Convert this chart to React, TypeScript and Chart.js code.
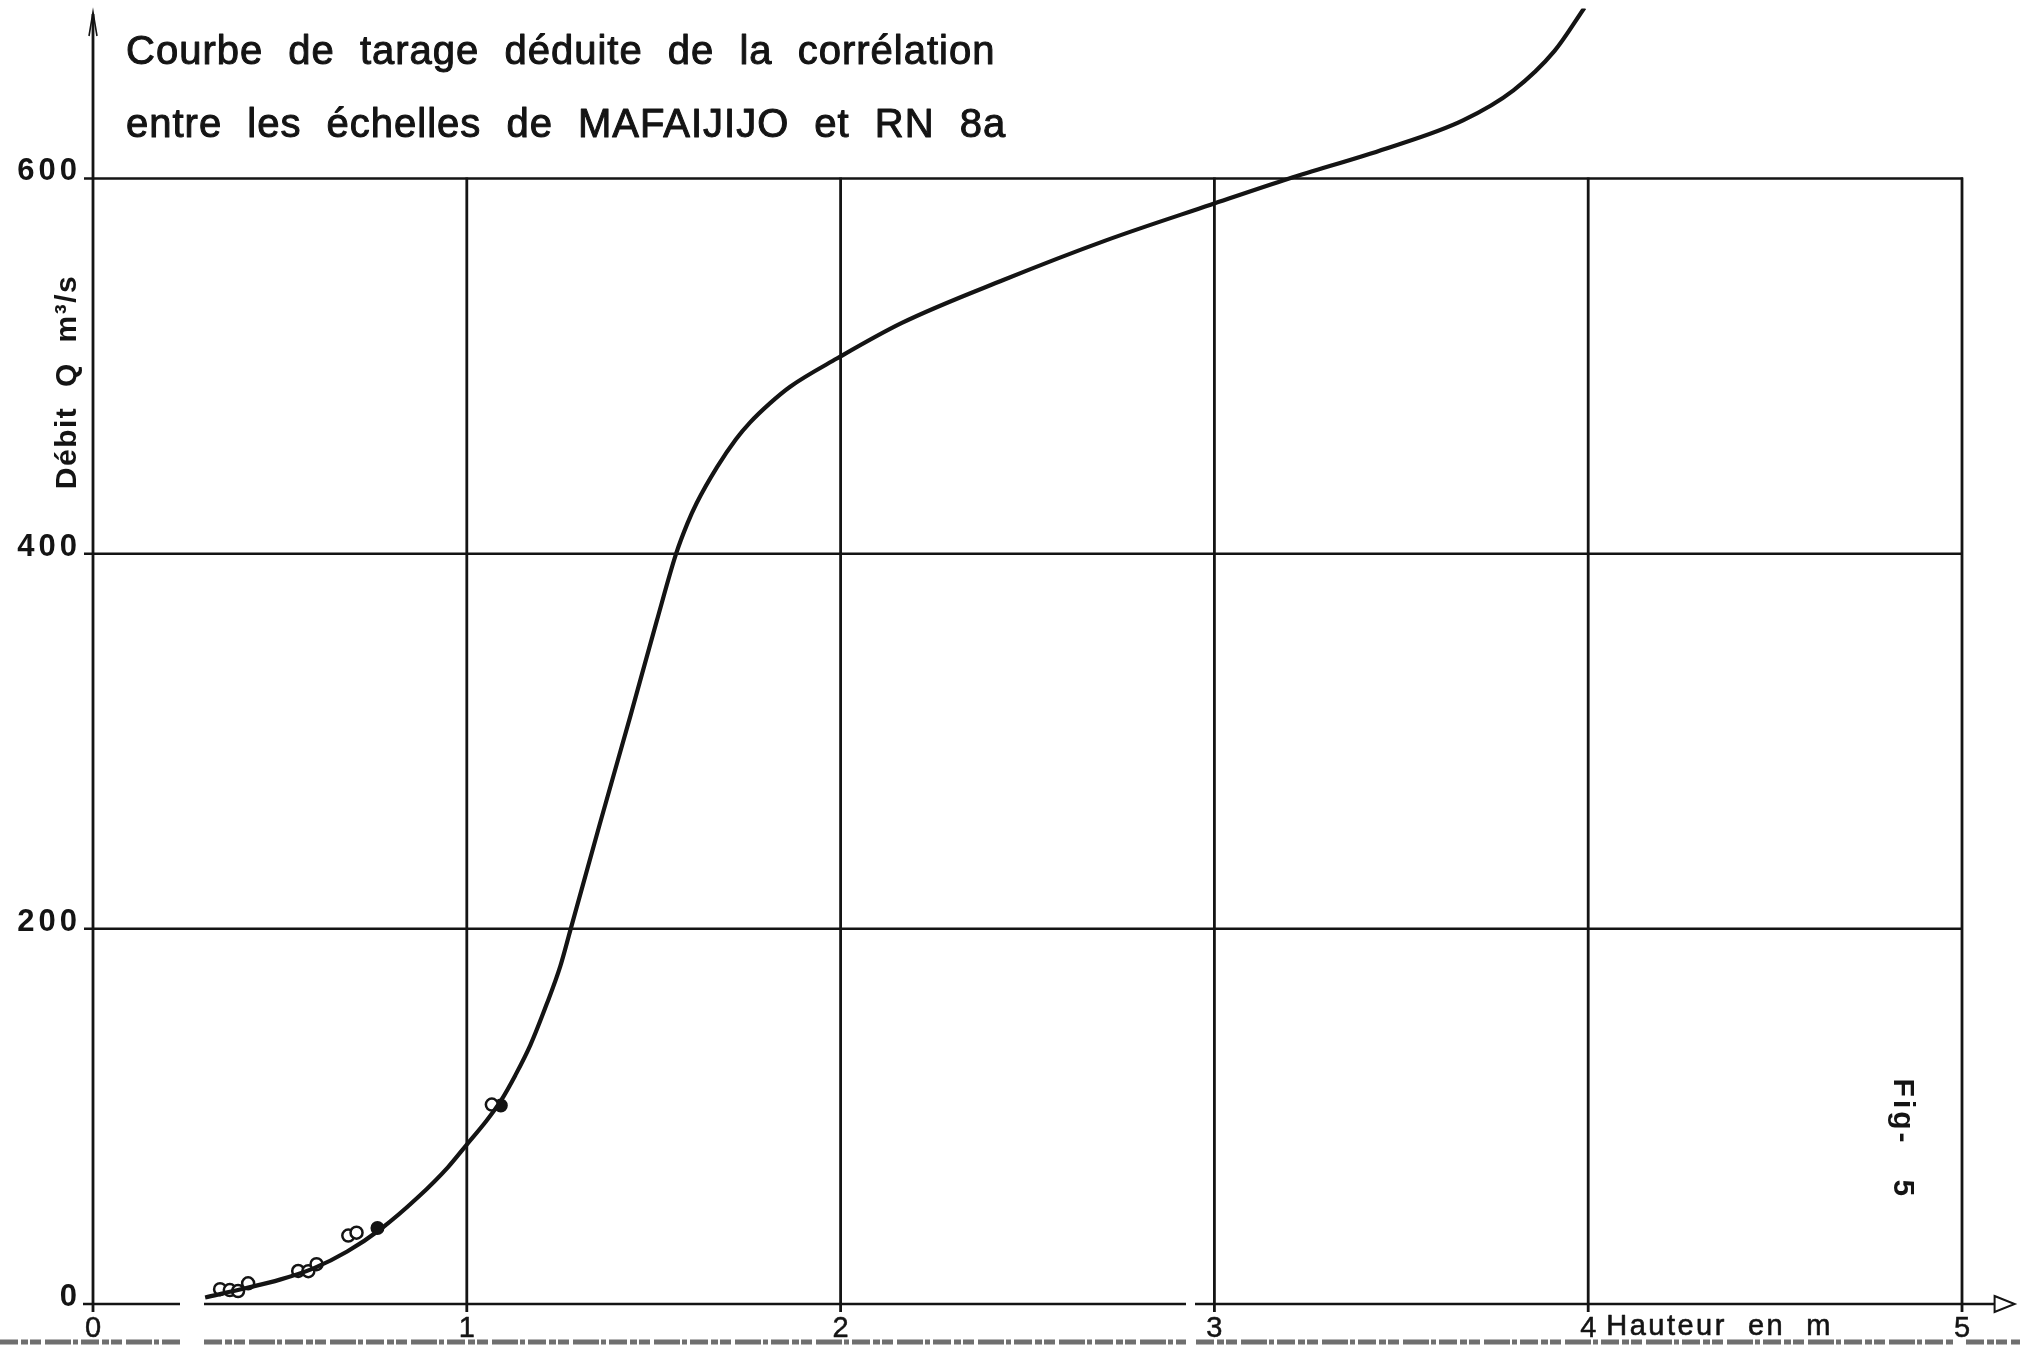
import React, { useEffect, useRef } from 'react';
import { Chart, registerables } from 'chart.js';

Chart.register(...registerables);

// Rating curve: stage (m) vs discharge (m³/s)
const H_CURVE = [0.3, 0.41, 0.5, 0.59, 0.68, 0.77, 0.87, 0.95, 1.0, 1.05, 1.09, 1.13, 1.17, 1.214, 1.25, 1.278, 1.356, 1.437, 1.508, 1.56, 1.59, 1.615, 1.669, 1.72, 1.758, 1.81, 1.865, 1.99, 2.164, 2.437, 2.71, 2.99, 3.2, 3.46, 3.665, 3.8, 3.91, 3.99];
const Q_CURVE = [3.5, 8.5, 13, 19, 28, 40, 57, 73, 85, 97, 108, 122, 138, 160, 180, 200, 256, 313, 364, 400, 416, 427, 446, 461, 470, 480, 489, 504, 523, 546, 567, 586, 600, 616, 631, 647, 668, 691];

// Gaugings (open and filled circles)
const H_OPEN = [0.34, 0.366, 0.388, 0.415, 0.549, 0.576, 0.598, 0.683, 0.705, 1.067];
const Q_OPEN = [7.9, 7.4, 6.9, 11, 17.6, 17.5, 21.2, 36.5, 38, 106.3];
const H_FILLED = [0.761, 1.091];
const Q_FILLED = [40.5, 105.8];

const X_TICKS = [0, 1, 2, 3, 4, 5];
const Y_TICKS = [0, 200, 400, 600];
const TITLE_LINES = ['Courbe de tarage déduite de la corrélation', 'entre les échelles de MAFAIJIJO et RN 8a'];
const Y_TITLE = 'Débit  Q  m³/s';
const X_TITLE = 'Hauteur  en  m';
const FIG_LABEL = 'Fig-   5';

const INK = '#141414';
const FONT = '"Liberation Sans", Arial, Helvetica, sans-serif';

const pts = (xs: number[], ys: number[]) => xs.map((x, i) => ({ x, y: ys[i] }));

function seg(ctx: CanvasRenderingContext2D, x1: number, y1: number, x2: number, y2: number) {
  ctx.beginPath();
  ctx.moveTo(x1, y1);
  ctx.lineTo(x2, y2);
  ctx.stroke();
}

// text with a faint outline so it reads as heavy as the typed lettering
function inked(ctx: CanvasRenderingContext2D, text: string, x: number, y: number, w: number) {
  ctx.fillText(text, x, y);
  if (w > 0) {
    ctx.lineWidth = w;
    ctx.strokeStyle = INK;
    ctx.strokeText(text, x, y);
  }
}

const paper = {
  id: 'paper',
  beforeDatasetsDraw(chart: any) {
    const { ctx, chartArea, scales } = chart;
    const x = scales.x;
    const y = scales.y;
    const x0 = x.getPixelForValue(0);
    const x5 = x.getPixelForValue(5);
    const y0 = y.getPixelForValue(0);
    const yTop = y.getPixelForValue(600);
    ctx.save();
    ctx.strokeStyle = INK;
    ctx.lineCap = 'butt';

    // horizontal grid lines (200, 400, 600)
    ctx.lineWidth = 2.5;
    for (const v of Y_TICKS.slice(1)) {
      const py = y.getPixelForValue(v);
      seg(ctx, x0 - 9, py, x5 + 1, py);
    }
    // vertical grid lines (1..5), ticking just below the axis
    ctx.lineWidth = 2.8;
    for (const v of X_TICKS.slice(1)) {
      const px = x.getPixelForValue(v);
      seg(ctx, px, yTop - 1, px, y0 + 8);
    }
    // y axis with arrow
    ctx.lineWidth = 2.8;
    seg(ctx, x0, 14, x0, y0 + 8);
    ctx.lineWidth = 1.6;
    ctx.beginPath();
    ctx.moveTo(x0 - 4, 36);
    ctx.lineTo(x0, 12);
    ctx.lineTo(x0 + 4, 36);
    ctx.stroke();

    // x axis (broken near the foot of the curve and before 3)
    ctx.lineWidth = 2.6;
    const arrowX = chartArea.right + 4;
    seg(ctx, x0 - 10, y0, 180, y0);
    seg(ctx, 204, y0, 1186, y0);
    seg(ctx, 1195, y0, arrowX - 20, y0);
    ctx.lineWidth = 2;
    ctx.beginPath();
    ctx.moveTo(arrowX - 20, y0 - 8);
    ctx.lineTo(arrowX, y0);
    ctx.lineTo(arrowX - 20, y0 + 8);
    ctx.closePath();
    ctx.stroke();

    // dark scan edge at the foot of the sheet
    ctx.strokeStyle = 'rgba(50,50,50,0.7)';
    ctx.lineWidth = 5;
    ctx.setLineDash([18, 3, 7, 2, 11, 4, 26, 2, 5, 3]);
    const by = chart.height - 6;
    seg(ctx, 0, by, 180, by);
    seg(ctx, 204, by, 1186, by);
    seg(ctx, 1196, by, 1954, by);
    seg(ctx, 1966, by, chart.width, by);
    ctx.setLineDash([]);
    ctx.restore();
  },
  afterDatasetsDraw(chart: any) {
    const { ctx, chartArea, scales } = chart;
    const x = scales.x;
    const y = scales.y;
    const x0 = x.getPixelForValue(0);
    ctx.save();
    ctx.fillStyle = INK;
    ctx.lineJoin = 'round';

    // y tick labels
    ctx.font = `bold 31px ${FONT}`;
    (ctx as any).letterSpacing = '4px';
    ctx.textAlign = 'right';
    ctx.textBaseline = 'alphabetic';
    for (const v of Y_TICKS) {
      ctx.fillText(String(v), x0 - 12, y.getPixelForValue(v) + 2);
    }

    // x tick labels
    ctx.font = `29px ${FONT}`;
    (ctx as any).letterSpacing = '0px';
    ctx.textAlign = 'center';
    const base = chartArea.bottom + 33;
    for (const v of X_TICKS) {
      inked(ctx, String(v), x.getPixelForValue(v), base, 0.5);
    }
    // x axis title after the "4"
    ctx.font = `29px ${FONT}`;
    (ctx as any).letterSpacing = '2.5px';
    ctx.textAlign = 'left';
    inked(ctx, X_TITLE, x.getPixelForValue(4) + 18, base - 2, 0.6);

    // title lines
    ctx.font = `40px ${FONT}`;
    (ctx as any).letterSpacing = '1px';
    (ctx as any).wordSpacing = '13px';
    inked(ctx, TITLE_LINES[0], x0 + 33, 64, 1);
    inked(ctx, TITLE_LINES[1], x0 + 33, 137, 1);

    // y axis title
    ctx.font = `bold 30px ${FONT}`;
    (ctx as any).letterSpacing = '1.5px';
    (ctx as any).wordSpacing = '0px';
    ctx.textAlign = 'center';
    ctx.textBaseline = 'middle';
    ctx.save();
    ctx.translate(68, 382);
    ctx.rotate(-Math.PI / 2);
    ctx.fillText(Y_TITLE, 0, 0);
    ctx.restore();

    // figure number, written sideways
    ctx.font = `bold 30px ${FONT}`;
    (ctx as any).letterSpacing = '3px';
    ctx.save();
    ctx.translate(x.getPixelForValue(4.84), y.getPixelForValue(88));
    ctx.rotate(Math.PI / 2);
    ctx.fillText(FIG_LABEL, 0, 0);
    ctx.restore();

    ctx.restore();
  },
};

export default function App() {
  const ref = useRef<HTMLCanvasElement>(null);

  useEffect(() => {
    if (!ref.current) return;
    const chart = new Chart(ref.current, {
      type: 'line',
      data: {
        datasets: [
          {
            label: 'Courbe',
            data: pts(H_CURVE, Q_CURVE),
            borderColor: INK,
            borderWidth: 4.2,
            pointRadius: 0,
            cubicInterpolationMode: 'monotone',
            fill: false,
          },
          {
            label: 'Jaugeages',
            data: pts(H_OPEN, Q_OPEN),
            showLine: false,
            pointRadius: 6,
            pointBorderWidth: 2.5,
            pointBorderColor: INK,
            pointBackgroundColor: '#ffffff',
          },
          {
            label: 'Jaugeages (pleins)',
            data: pts(H_FILLED, Q_FILLED),
            showLine: false,
            pointRadius: 6,
            pointBorderWidth: 2,
            pointBorderColor: INK,
            pointBackgroundColor: INK,
          },
        ],
      },
      options: {
        responsive: false,
        animation: false,
        layout: { padding: { left: 93, right: 9.4, top: 0, bottom: 44 } },
        scales: {
          x: { type: 'linear', min: 0, max: 5.13, display: false },
          y: { type: 'linear', min: 0, max: 690.6, display: false },
        },
        plugins: {
          legend: { display: false },
          tooltip: { enabled: false },
          title: { display: false },
        },
      },
      plugins: [paper],
    } as any);
    return () => chart.destroy();
  }, []);

  return (
    <div style={{ position: 'absolute', left: 0, top: 0, width: 2020, height: 1348, background: '#ffffff' }}>
      <canvas ref={ref} width={2020} height={1348} style={{ display: 'block' }} />
    </div>
  );
}
